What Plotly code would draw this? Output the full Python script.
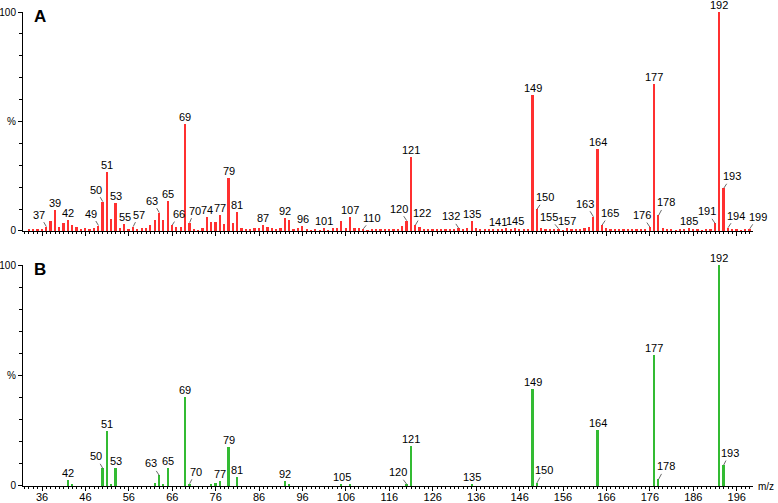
import plotly.graph_objects as go

# ---------------- data ----------------
mz_a = list(range(33, 200))
int_a = [
    0.8, 0.8, 0.6, 0.8, 2.0, 4.7, 9.6, 2.0, 3.6, 5.0,          # 33-42
    2.7, 2.0, 1.0, 1.2, 1.0, 1.2, 2.5, 13.4, 27.0, 5.5,        # 43-52
    13.0, 1.5, 3.0, 0.6, 2.0, 0.8, 1.5, 1.5, 2.7, 5.0,         # 53-62
    8.4, 5.0, 13.8, 2.7, 2.0, 1.8, 49.0, 3.8, 1.0, 0.3,        # 63-72
    1.5, 6.5, 4.3, 4.3, 7.1, 3.0, 24.4, 3.5, 8.8, 1.5,         # 73-82
    0.8, 0.8, 1.2, 1.5, 2.7, 1.6, 1.3, 1.0, 1.5, 6.0,          # 83-92
    5.0, 1.0, 1.5, 2.3, 0.7, 0.4, 1.0, 0.4, 1.3, 0.4,          # 93-102
    1.3, 1.2, 4.5, 1.3, 6.5, 1.5, 1.2, 1.0, 0.4, 0.6,          # 103-112
    0.5, 0.8, 0.8, 1.0, 0.8, 1.0, 2.3, 4.7, 33.6, 2.7,         # 113-122
    1.8, 0.5, 0.8, 0.5, 0.6, 0.5, 0.6, 0.5, 0.7, 1.2,          # 123-132
    0.8, 1.2, 4.7, 1.2, 1.0, 0.8, 0.6, 0.6, 1.0, 0.8,          # 133-142
    1.2, 0.5, 1.5, 0.5, 0.6, 0.6, 62.1, 9.9, 1.2, 1.0,         # 143-152
    0.5, 0.6, 1.0, 0.4, 1.5, 0.6, 1.0, 1.0, 1.2, 2.0,          # 153-162
    6.5, 37.3, 2.7, 1.5, 0.6, 0.8, 0.6, 0.6, 0.8, 1.0,         # 163-172
    1.0, 1.0, 1.0, 1.8, 67.1, 7.1, 1.5, 1.0, 0.6, 0.4,         # 173-182
    0.8, 0.8, 1.5, 0.8, 0.6, 0.4, 0.6, 0.8, 3.5, 100.0,        # 183-192
    19.5, 1.5, 0.8, 0.6, 0.4, 0.5, 1.0,                        # 193-199
]

mz_b = [42, 43, 50, 51, 52, 53, 62, 63, 64, 65, 69, 70, 75, 76, 77, 79, 81,
        92, 93, 105, 107, 120, 121, 135, 149, 150, 164, 177, 178, 192, 193]
int_b = [2.7, 1.0, 8.0, 24.9, 1.0, 8.0, 1.3, 4.8, 1.0, 8.3, 40.4, 1.0, 0.6,
         1.3, 2.4, 17.8, 4.2, 2.3, 0.6, 0.7, 0.7, 0.8, 18.0, 0.8, 43.9, 1.4,
         25.3, 59.3, 3.0, 100.0, 9.5]

labels_a = [37, 39, 42, 49, 50, 51, 53, 55, 57, 63, 65, 66, 69, 70, 74, 77,
            79, 81, 87, 92, 96, 101, 107, 110, 120, 121, 122, 132, 135, 141,
            145, 149, 150, 155, 157, 163, 164, 165, 176, 177, 178, 185, 191,
            192, 193, 194, 199]
labels_b = [42, 50, 51, 53, 63, 65, 69, 70, 77, 79, 81, 92, 105, 120, 121,
            135, 149, 150, 164, 177, 178, 192, 193]

x_ticks = [36, 46, 56, 66, 76, 86, 96, 106, 116, 126, 136, 146, 156, 166,
           176, 186, 196]

# ---------------- style ----------------
FONT = "Arial, Liberation Sans, sans-serif"
RED = "#ff3030"
GREEN = "#33bb33"
# leader-line offsets (px) for labels set off from their peak
lead_a = {37: (-7, -12), 49: (-7, -12), 50: (-7, -12), 57: (6, -12),
          63: (-7, -12), 66: (7, -11), 70: (5, -12), 110: (9, -11),
          120: (-8, -12), 122: (7, -12), 132: (-8, -12), 150: (8, -12),
          155: (-10, -12), 163: (-8, -13), 165: (8, -12), 176: (-8, -12),
          178: (7, -13), 191: (-8, -12), 193: (8, -12), 194: (8, -12),
          199: (8, -12)}
lead_b = {50: (-7, -12), 63: (-8, -12), 70: (6, -12), 120: (-9, -12),
          150: (7, -13), 178: (7, -13), 193: (6, -12)}

fig = go.Figure()
fig.add_trace(go.Bar(x=mz_a, y=int_a, width=0.4, marker=dict(color=RED, line_width=0),
                     xaxis="x2", yaxis="y2", showlegend=False, hoverinfo="x+y"))
fig.add_trace(go.Bar(x=mz_b, y=int_b, width=0.4, marker=dict(color=GREEN, line_width=0),
                     xaxis="x", yaxis="y", showlegend=False, hoverinfo="x+y"))

annots = []


def add_labels(mzs, ints, labels, leads, xref, yref):
    lookup = dict(zip(mzs, ints))
    for m in labels:
        v = lookup[m]
        if m in leads:
            ax, ay = leads[m]
            annots.append(dict(x=m, y=v, xref=xref, yref=yref, text=str(m),
                               showarrow=True, arrowhead=0, arrowwidth=0.8,
                               arrowcolor="#444", ax=ax, ay=ay, standoff=0,
                               font=dict(family=FONT, size=11, color="black")))
        else:
            annots.append(dict(x=m, y=v, xref=xref, yref=yref, text=str(m),
                               showarrow=False, yanchor="bottom", yshift=-1,
                               font=dict(family=FONT, size=11, color="black")))


add_labels(mz_a, int_a, labels_a, lead_a, "x2", "y2")
add_labels(mz_b, int_b, labels_b, lead_b, "x", "y")

annots.append(dict(x=0.0233, y=0.9895, xref="paper", yref="paper", text="<b>A</b>",
                   showarrow=False, xanchor="center", yanchor="middle",
                   font=dict(family=FONT, size=17, color="black")))
annots.append(dict(x=0.0233, y=0.4557, xref="paper", yref="paper", text="<b>B</b>",
                   showarrow=False, xanchor="center", yanchor="middle",
                   font=dict(family=FONT, size=17, color="black")))
annots.append(dict(x=1.0, y=0.0, xref="paper", yref="paper", text="m/z",
                   showarrow=False, xanchor="left", yanchor="middle", xshift=3,
                   font=dict(family=FONT, size=10, color="black")))

xcommon = dict(range=[31.62, 199.75], showline=True, linecolor="black", linewidth=1,
               ticks="outside", ticklen=4, tickcolor="black", tickwidth=1,
               tickvals=x_ticks, showgrid=False, zeroline=False, fixedrange=True,
               automargin=False,
               minor=dict(dtick=1, tick0=36, ticks="outside", ticklen=2,
                          tickcolor="black", tickwidth=1, showgrid=False))
ycommon = dict(range=[0, 100], showline=True, linecolor="black", linewidth=1,
               ticks="outside", ticklen=4, tickcolor="black", tickwidth=1,
               tickvals=[0, 50, 100], ticktext=["0", "%", "100"],
               tickfont=dict(family=FONT, size=10, color="black"),
               showgrid=False, zeroline=False, fixedrange=True, automargin=False,
               minor=dict(dtick=10, tick0=0, ticks="outside", ticklen=3,
                          tickcolor="black", tickwidth=1, showgrid=False))

fig.update_layout(
    width=778, height=503,
    margin=dict(l=23, r=25, t=12, b=17, autoexpand=False),
    paper_bgcolor="white", plot_bgcolor="white",
    bargap=0,
    xaxis=dict(**xcommon, anchor="y", showticklabels=True, ticklabelstandoff=-3,
               tickfont=dict(family=FONT, size=11, color="black")),
    xaxis2=dict(**xcommon, anchor="y2", matches="x", showticklabels=False),
    yaxis=dict(**ycommon, domain=[0, 0.466], anchor="x"),
    yaxis2=dict(**ycommon, domain=[0.538, 1.0], anchor="x2"),
    annotations=annots,
    font=dict(family=FONT, size=11, color="black"),
)
fig.update_traces(cliponaxis=False)

fig.write_html("out.html", config={"displayModeBar": False},
               post_script="document.body.style.margin='0';")
